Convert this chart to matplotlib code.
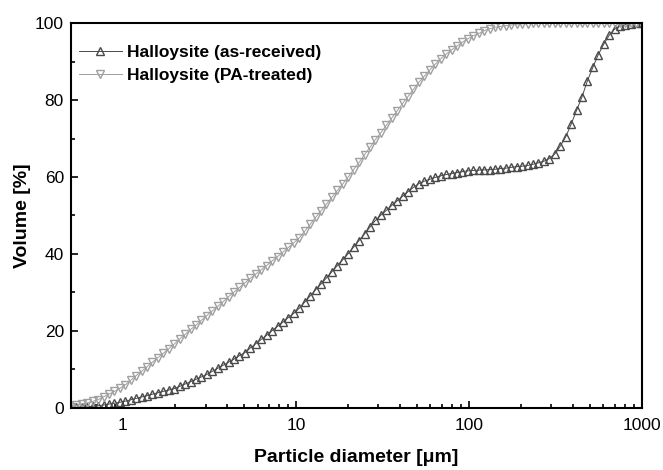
import matplotlib
matplotlib.use('Agg')
import matplotlib.pyplot as plt
from matplotlib.ticker import LogLocator, MultipleLocator, FixedLocator, FixedFormatter
import numpy as np

plt.rcParams['font.family'] = ['Liberation Sans', 'DejaVu Sans']

# particle size bins (um), log spaced as in the instrument output
diameter = np.geomspace(0.5, 1000, 106)

# cumulative volume [%], one value per bin
as_received = [
    0.1, 0.2, 0.3, 0.35, 0.43, 0.55, 0.78, 1.0, 1.23, 1.47,
    1.75, 2.12, 2.48, 2.85, 3.21, 3.58, 3.94, 4.31, 4.67, 5.04,
    5.62, 6.22, 6.83, 7.44, 8.06, 8.71, 9.51, 10.3, 11.1, 11.9,
    12.7, 13.6, 14.4, 15.6, 16.7, 17.8, 18.9, 20.1, 21.2, 22.3,
    23.5, 24.6, 25.9, 27.5, 29.1, 30.7, 32.2, 33.8, 35.4, 37.0,
    38.5, 40.1, 41.8, 43.5, 45.2, 47.0, 48.7, 50.1, 51.3, 52.6,
    53.8, 55.0, 56.2, 57.3, 58.3, 58.9, 59.4, 59.9, 60.3, 60.65,
    60.9, 61.15, 61.4, 61.6, 61.7, 61.8, 61.85, 61.9, 62.0, 62.2,
    62.3, 62.5, 62.7, 62.8, 63.0, 63.3, 63.7, 64.1, 64.8, 66.0,
    68.0, 70.4, 73.7, 77.3, 80.8, 85.0, 88.5, 91.8, 94.5, 96.8,
    98.4, 99.2, 99.6, 99.8, 99.9, 100.0,
]
pa_treated = [
    0.3, 0.65, 1.0, 1.36, 1.71, 2.14, 2.9, 3.6, 4.3, 5.1,
    6.0, 7.2, 8.4, 9.5, 10.7, 11.9, 13.1, 14.2, 15.4, 16.6,
    17.9, 19.1, 20.4, 21.5, 22.8, 24.0, 25.2, 26.4, 27.6, 28.9,
    30.1, 31.3, 32.5, 33.7, 34.8, 35.9, 37.0, 38.2, 39.3, 40.5,
    41.7, 42.9, 44.2, 45.9, 47.7, 49.5, 51.2, 53.0, 54.7, 56.5,
    58.2, 60.0, 61.9, 63.8, 65.8, 67.7, 69.7, 71.5, 73.4, 75.3,
    77.2, 79.1, 80.9, 82.8, 84.6, 86.2, 87.8, 89.3, 90.7, 91.9,
    93.0, 94.0, 95.0, 95.9, 96.7, 97.3, 98.0, 98.5, 98.9, 99.1,
    99.3, 99.5, 99.7, 99.8, 99.85, 99.9, 99.9, 99.95, 100.0, 100.0,
    100.0, 100.0, 100.0, 100.0, 100.0, 100.0, 100.0, 100.0, 100.0, 100.0,
    100.0, 100.0, 100.0, 100.0, 100.0, 100.0,
]
labels = ['Halloysite (as-received)', 'Halloysite (PA-treated)']

fig = plt.figure(figsize=(6.63, 4.70), dpi=100)
ax = fig.add_axes([0.107, 0.132, 0.861, 0.819])

ax.plot(diameter, as_received, color='#4a4a4a', marker='^', markersize=6,
        markerfacecolor='none', markeredgewidth=1.0, linewidth=0.7, label=labels[0])
ax.plot(diameter, pa_treated, color='#a0a0a0', marker='v', markersize=6,
        markerfacecolor='none', markeredgewidth=1.0, linewidth=0.7, label=labels[1])

ax.set_xscale('log')
ax.set_xlim(0.5, 1000)
ax.set_ylim(0, 100)

ax.xaxis.set_major_locator(FixedLocator([1, 10, 100, 1000]))
ax.xaxis.set_major_formatter(FixedFormatter(['1', '10', '100', '1000']))
ax.xaxis.set_minor_locator(LogLocator(base=10, subs=np.arange(2, 10), numticks=20))
ax.xaxis.set_minor_formatter(FixedFormatter([]))
ax.yaxis.set_major_locator(MultipleLocator(20))
ax.yaxis.set_minor_locator(MultipleLocator(10))

ax.tick_params(which='both', direction='in', top=False, right=False, labelsize=12.5, width=1.2)
ax.tick_params(which='major', length=5)
ax.tick_params(axis='x', which='major', pad=7)
ax.tick_params(axis='y', which='major', pad=5)
ax.tick_params(which='minor', length=3)
for s in ax.spines.values():
    s.set_linewidth(1.5)

ax.set_xlabel('Particle diameter [\u03bcm]', fontsize=14, fontweight='bold', labelpad=12)
ax.set_ylabel('Volume [%]', fontsize=14, fontweight='bold', labelpad=3)

leg = ax.legend(loc='upper left', frameon=False, prop={'weight': 'bold', 'size': 12.5},
                handlelength=2.5, handletextpad=0.3, labelspacing=0.45,
                borderaxespad=0.3, bbox_to_anchor=(-0.008, 0.975))

fig.savefig('out.png', dpi=100)
